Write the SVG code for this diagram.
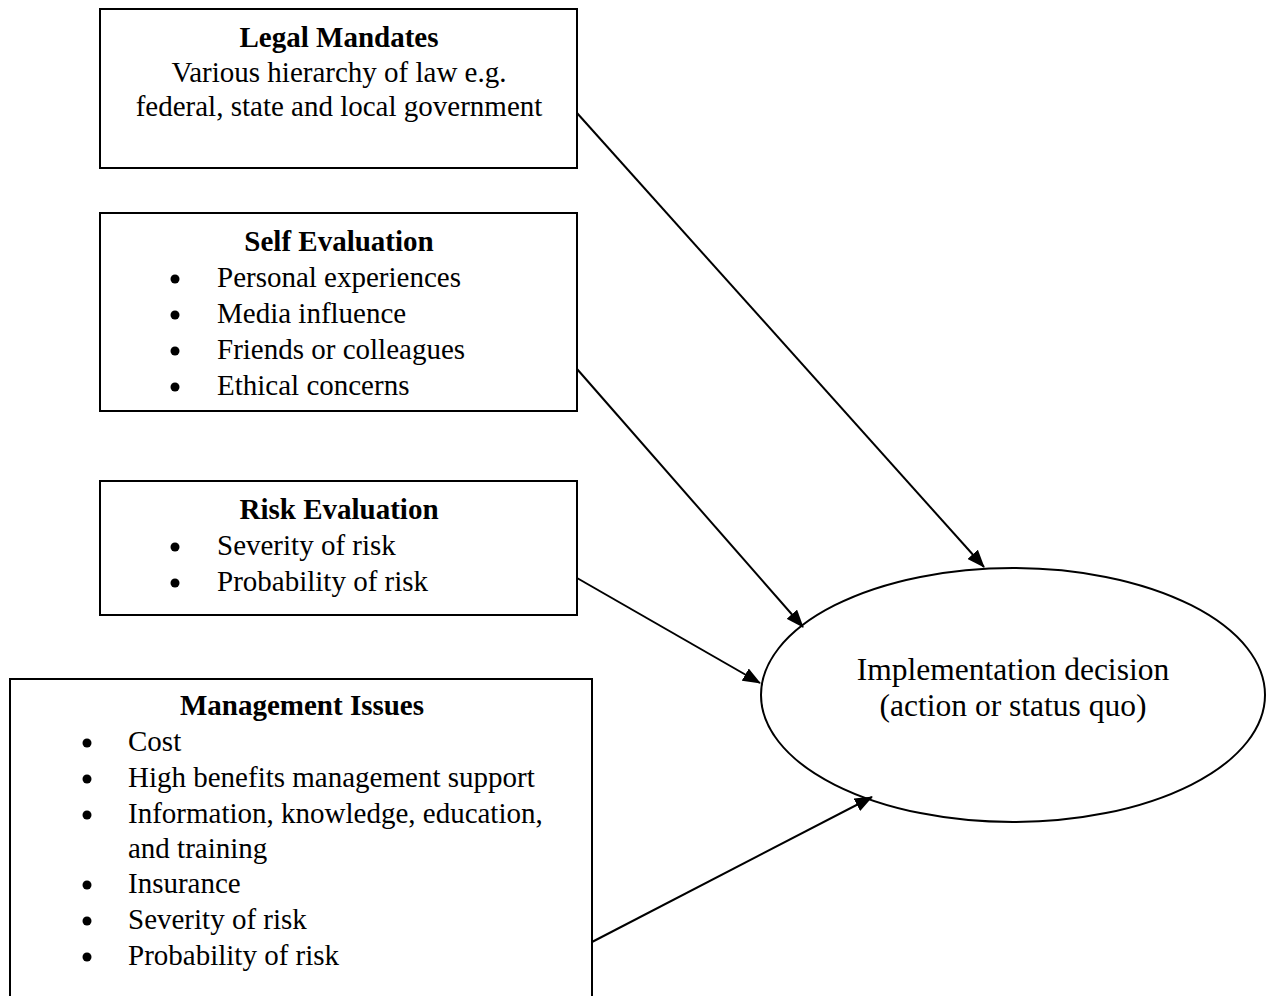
<svg xmlns="http://www.w3.org/2000/svg" width="1274" height="996" viewBox="0 0 1274 996">
<style>
.box{fill:#fff;stroke:#000;stroke-width:2}
.t{font-family:"Liberation Serif","Times New Roman",serif;font-size:29px;fill:#000}
.b{font-weight:bold}
.c{text-anchor:middle}
.e{font-size:31.5px}
.dot{fill:#000}
.conn line{stroke:#000;stroke-width:2}
</style>
<defs>
<marker id="arr" viewBox="0 0 18 14" refX="17" refY="7" markerWidth="18" markerHeight="14" markerUnits="userSpaceOnUse" orient="auto">
<path d="M0,0 L18,7 L0,14 Z" fill="#000"/>
</marker>
</defs>
<rect width="1274" height="996" fill="#fff"/>
<g id="legal">
<rect class="box" x="100" y="9" width="477" height="159"/>
<text class="t b c" x="339" y="47">Legal Mandates</text>
<text class="t c" x="339" y="82">Various hierarchy of law e.g.</text>
<text class="t c" x="339" y="116">federal, state and local government</text>
</g>
<g id="self">
<rect class="box" x="100" y="213" width="477" height="198"/>
<text class="t b c" x="339" y="251">Self Evaluation</text>
<circle class="dot" cx="175" cy="279" r="4.5"/><text class="t" x="217" y="287">Personal experiences</text>
<circle class="dot" cx="175" cy="315" r="4.5"/><text class="t" x="217" y="323">Media influence</text>
<circle class="dot" cx="175" cy="351" r="4.5"/><text class="t" x="217" y="359">Friends or colleagues</text>
<circle class="dot" cx="175" cy="387" r="4.5"/><text class="t" x="217" y="395">Ethical concerns</text>
</g>
<g id="risk">
<rect class="box" x="100" y="481" width="477" height="134"/>
<text class="t b c" x="339" y="519">Risk Evaluation</text>
<circle class="dot" cx="175" cy="547" r="4.5"/><text class="t" x="217" y="555">Severity of risk</text>
<circle class="dot" cx="175" cy="583" r="4.5"/><text class="t" x="217" y="591">Probability of risk</text>
</g>
<g id="mgmt">
<path class="box" d="M10,1000 L10,679 L592,679 L592,1000"/>
<text class="t b c" x="302" y="715">Management Issues</text>
<circle class="dot" cx="87" cy="743" r="4.5"/><text class="t" x="128" y="751">Cost</text>
<circle class="dot" cx="87" cy="779" r="4.5"/><text class="t" x="128" y="787">High benefits management support</text>
<circle class="dot" cx="87" cy="815" r="4.5"/><text class="t" x="128" y="823">Information, knowledge, education,</text>
<text class="t" x="128" y="858">and training</text>
<circle class="dot" cx="87" cy="885" r="4.5"/><text class="t" x="128" y="893">Insurance</text>
<circle class="dot" cx="87" cy="921" r="4.5"/><text class="t" x="128" y="929">Severity of risk</text>
<circle class="dot" cx="87" cy="957" r="4.5"/><text class="t" x="128" y="965">Probability of risk</text>
</g>
<g id="decision">
<ellipse cx="1013" cy="695" rx="252" ry="127" fill="#fff" stroke="#000" stroke-width="2"/>
<text class="t e c" x="1013" y="680">Implementation decision</text>
<text class="t e c" x="1013" y="716">(action or status quo)</text>
</g>
<g class="conn" id="connectors">
<line x1="577" y1="113" x2="984" y2="567" marker-end="url(#arr)"/>
<line x1="577" y1="369" x2="803" y2="627" marker-end="url(#arr)"/>
<line x1="577" y1="578" x2="760" y2="683" marker-end="url(#arr)"/>
<line x1="592" y1="942" x2="872" y2="797" marker-end="url(#arr)"/>
</g>
</svg>
